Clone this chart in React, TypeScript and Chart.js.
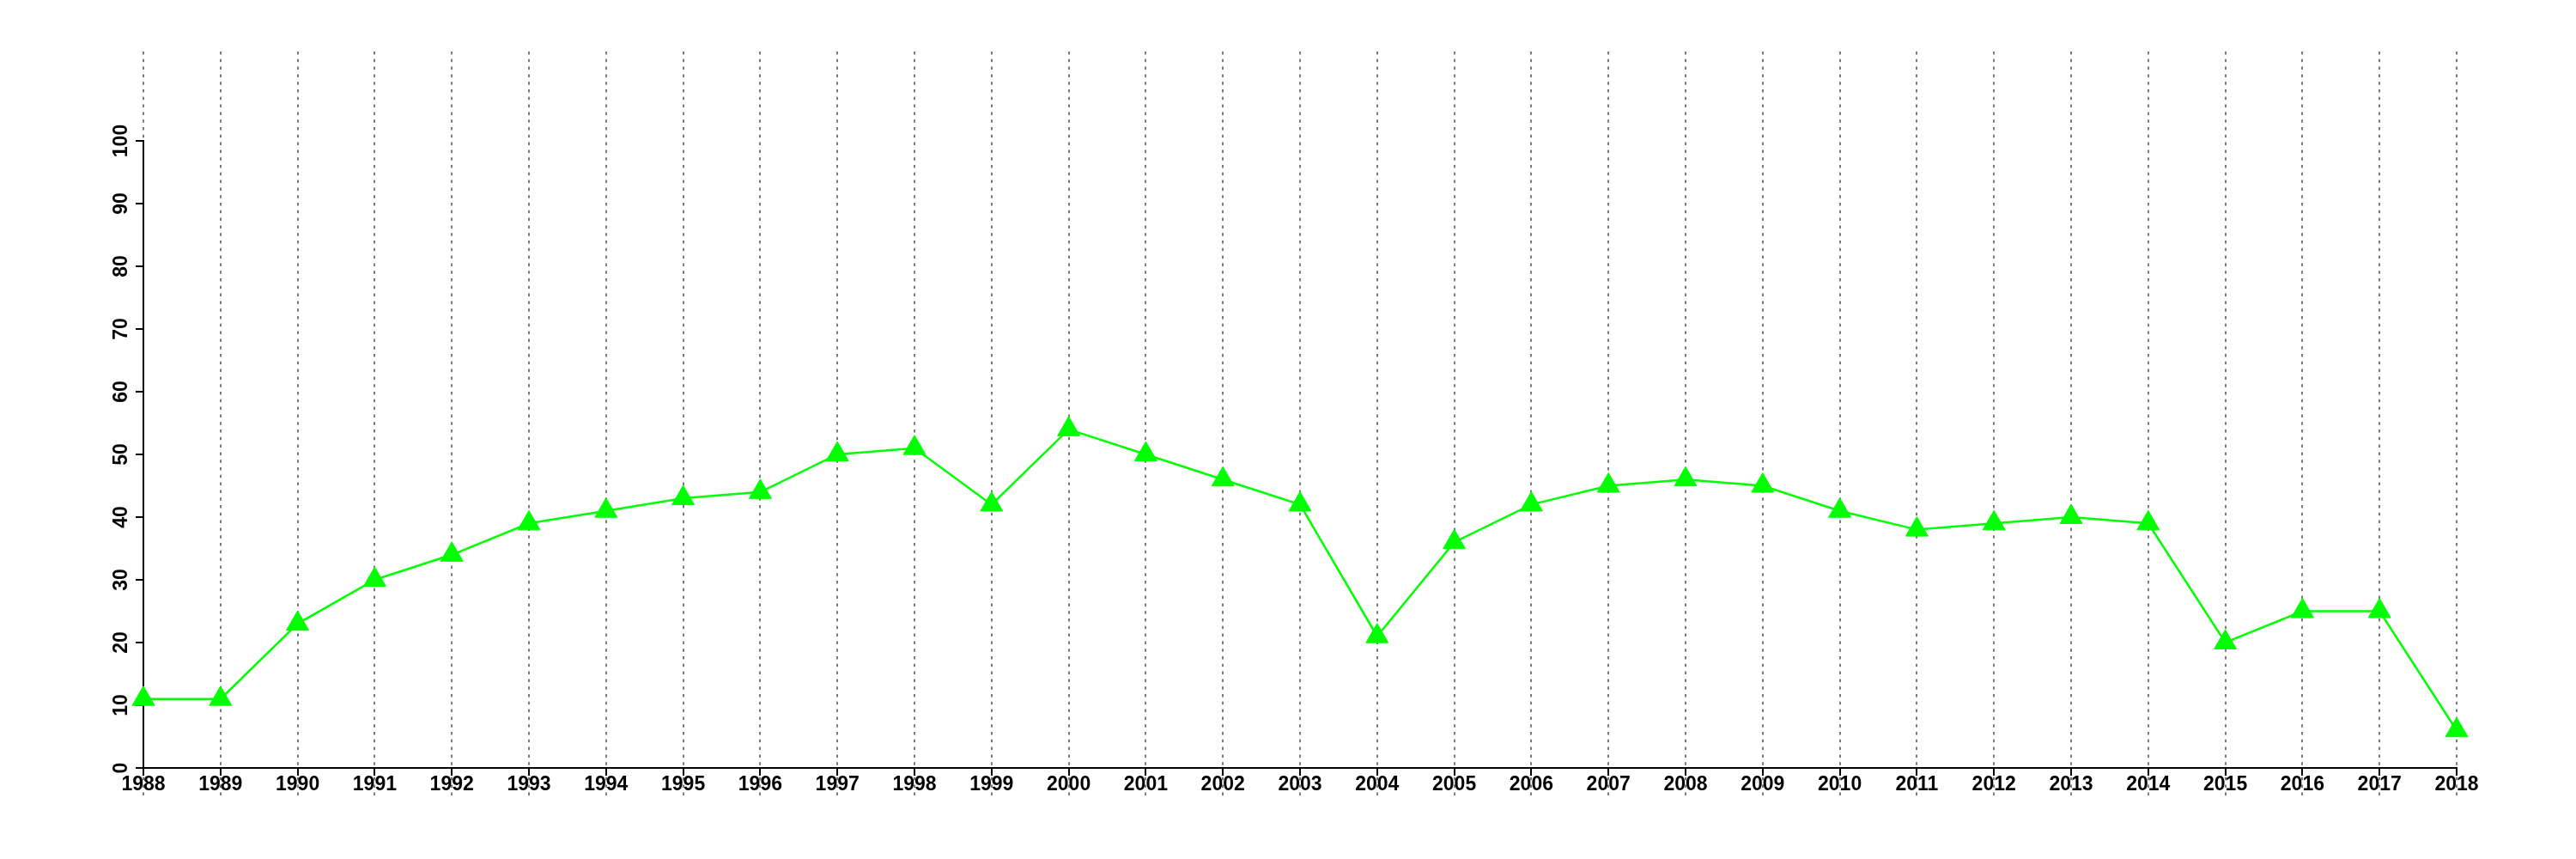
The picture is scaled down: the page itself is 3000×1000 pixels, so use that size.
import React, { useEffect, useRef } from "react";
import { Chart, registerables } from "chart.js";

Chart.register(...registerables);

const years = [
  "1988", "1989", "1990", "1991", "1992", "1993", "1994", "1995", "1996", "1997",
  "1998", "1999", "2000", "2001", "2002", "2003", "2004", "2005", "2006", "2007",
  "2008", "2009", "2010", "2011", "2012", "2013", "2014", "2015", "2016", "2017", "2018",
];

const values = [
  11, 11, 23, 30, 34, 39, 41, 43, 44, 50,
  51, 42, 54, 50, 46, 42, 21, 36, 42, 45,
  46, 45, 41, 38, 39, 40, 39, 20, 25, 25, 6,
];

const yTicks = [0, 10, 20, 30, 40, 50, 60, 70, 80, 90, 100];

const FONT = "'Liberation Sans', Arial, Helvetica, sans-serif";

const extendedGrid = {
  id: "extendedGrid",
  beforeDraw(chart: any) {
    const { ctx, chartArea, scales } = chart;
    const xs = scales.x;
    if (!xs) return;
    ctx.save();
    ctx.strokeStyle = "#7a7a7a";
    ctx.lineWidth = 2;
    ctx.setLineDash([3.5, 5.3]);
    const y0 = chartArea.top - 104;
    const y1 = chartArea.bottom + 33;
    xs.ticks.forEach((_: any, i: number) => {
      const px = Math.round(xs.getPixelForTick(i));
      ctx.beginPath();
      ctx.moveTo(px, y0);
      ctx.lineTo(px, y1);
      ctx.stroke();
    });
    ctx.restore();
  },
};

export default function App() {
  const ref = useRef<HTMLCanvasElement | null>(null);

  useEffect(() => {
    document.body.style.margin = "0";
    const canvas = ref.current;
    if (!canvas) return;
    const chart = new Chart(canvas, {
      type: "line",
      data: {
        labels: years,
        datasets: [
          {
            data: values,
            borderColor: "#00ff00",
            borderWidth: 2.5,
            backgroundColor: "#00ff00",
            pointStyle: "triangle",
            pointRadius: 15,
            pointHoverRadius: 15,
            pointBackgroundColor: "#00ff00",
            pointBorderColor: "#00ff00",
            pointBorderWidth: 1,
            tension: 0,
            clip: false,
            fill: false,
          } as any,
        ],
      },
      options: {
        responsive: false,
        animation: false,
        devicePixelRatio: 1,
        events: [],
        layout: { padding: { left: 0, top: 164, right: 139, bottom: 0 } },
        plugins: {
          legend: { display: false },
          tooltip: { enabled: false },
          title: { display: false },
        },
        scales: {
          x: {
            type: "category",
            offset: false,
            afterFit: (s: any) => {
              s.height = 106;
            },
            grid: {
              display: true,
              drawOnChartArea: false,
              drawTicks: true,
              tickLength: 9,
              tickColor: "#000000",
              tickWidth: 2,
              lineWidth: 2,
              offset: false,
            },
            border: { display: true, color: "#000000", width: 2 },
            ticks: {
              autoSkip: false,
              maxRotation: 0,
              minRotation: 0,
              padding: -3,
              color: "#000000",
              font: { family: FONT, size: 23, weight: "bold" },
            },
          },
          y: {
            type: "linear",
            min: 0,
            max: 100,
            afterFit: (s: any) => {
              s.width = 167;
            },
            afterBuildTicks: (s: any) => {
              s.ticks = yTicks.map((v) => ({ value: v }));
            },
            grid: {
              display: true,
              drawOnChartArea: false,
              drawTicks: true,
              tickLength: 9,
              tickColor: "#000000",
              tickWidth: 2,
              lineWidth: 2,
            },
            border: { display: true, color: "#000000", width: 2 },
            ticks: {
              minRotation: 90,
              maxRotation: 90,
              crossAlign: "center",
              padding: -3,
              color: "#000000",
              font: { family: FONT, size: 23, weight: "bold" },
            },
          },
        },
      } as any,
      plugins: [extendedGrid],
    });
    return () => {
      chart.destroy();
    };
  }, []);

  return (
    <canvas
      ref={ref}
      width={3000}
      height={1000}
      style={{ display: "block", width: "3000px", height: "1000px" }}
    />
  );
}
